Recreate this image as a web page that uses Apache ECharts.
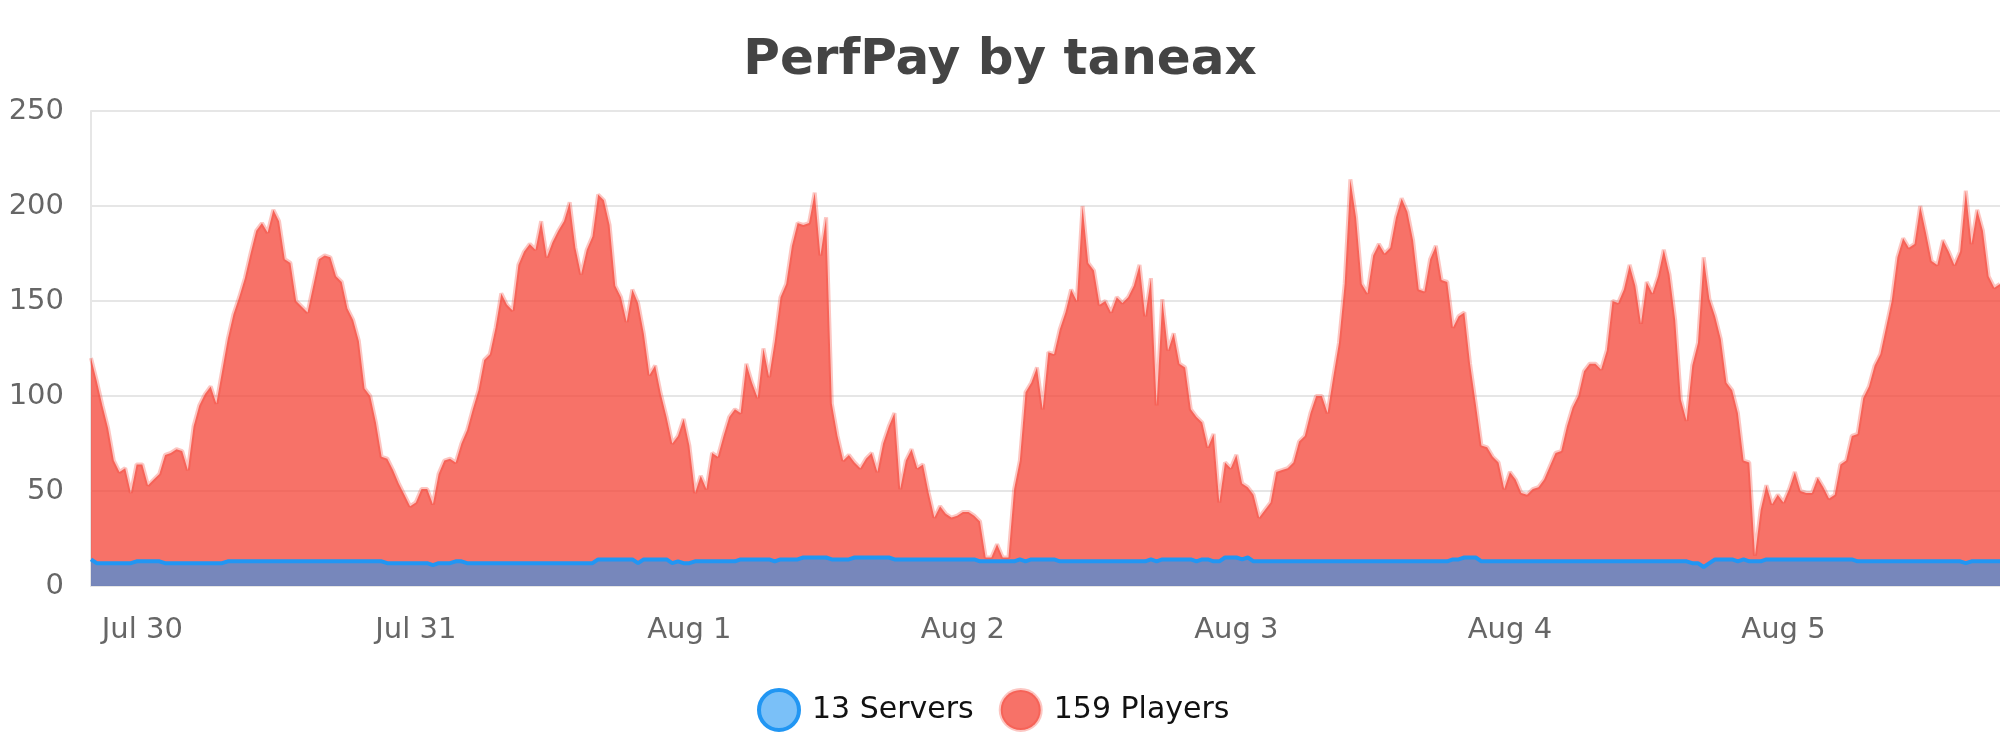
<!DOCTYPE html>
<html lang="en">
<head>
  <meta charset="UTF-8">
  <title>PerfPay by taneax</title>
  <script type="text/javascript" src="https://cdn.jsdelivr.net/npm/echarts@6/dist/echarts.min.js"></script>
  <style>
    html, body { margin: 0; padding: 0; background: #fff; }
  </style>
</head>
<body>
  <div id="chart" style="width: 2000px; height: 750px;"></div>

  <script type="text/javascript">
    // 30 minute samples, first one at Jul 29 19:30
    var startDay = 29;
    var startMinute = 19 * 60 + 30;
    var stepMinutes = 30;
    var monthNames = { 29: 'Jul 29', 30: 'Jul 30', 31: 'Jul 31', 32: 'Aug 1', 33: 'Aug 2', 34: 'Aug 3', 35: 'Aug 4', 36: 'Aug 5' };

    var players = [
      120,108,95,83,66,60,62,49,64,64,
      53,56,59,69,70,72,71,61,84,95,
      101,105,96,113,130,143,152,162,175,187,
      191,186,198,192,172,170,150,147,144,158,
      172,174,
      173,163,160,146,140,129,104,100,86,68,
      67,61,54,48,42,44,51,51,43,59,
      66,67,65,75,82,93,103,119,122,136,
      154,148,145,169,176,180,177,192,173,181,
      187,192,202,
      178,164,177,184,206,203,190,158,152,139,
      156,149,133,111,116,101,89,75,79,88,
      74,49,58,51,70,68,79,89,93,91,
      117,107,99,125,110,129,152,159,179,191,
      190,191,
      207,174,194,96,79,66,69,65,62,67,
      70,60,75,84,91,51,66,72,62,64,
      49,36,42,38,36,37,39,39,37,34,
      15,15,22,15,15,51,66,102,107,115,
      93,123,
      122,135,144,156,150,200,170,166,148,150,
      144,152,149,152,158,169,142,162,95,151,
      124,133,117,115,93,89,86,73,80,44,
      65,62,69,54,52,48,36,40,44,60,
      61,62,
      65,76,79,91,100,100,91,110,128,159,
      214,194,159,154,174,180,175,178,194,204,
      197,182,156,155,172,179,161,160,136,142,
      144,117,96,74,73,68,65,51,60,56,
      49,48,
      51,52,56,63,70,71,84,94,100,113,
      117,117,114,124,150,149,156,169,158,138,
      160,154,163,177,164,140,98,87,116,128,
      173,151,142,130,107,103,91,66,65,16,
      40,53,43,
      48,44,51,60,50,49,49,57,52,46,
      48,64,66,79,80,99,105,116,122,136,
      150,173,183,178,180,200,186,171,169,182,
      176,169,176,208,180,198,187,163,157,159
    ];

    var servers = [
      14,12,12,12,12,12,12,12,13,13,
      13,13,13,12,12,12,12,12,12,12,
      12,12,12,12,13,13,13,13,13,13,
      13,13,13,13,13,13,13,13,13,13,
      13,13,
      13,13,13,13,13,13,13,13,13,13,
      12,12,12,12,12,12,12,12,11,12,
      12,12,13,13,12,12,12,12,12,12,
      12,12,12,12,12,12,12,12,12,12,
      12,12,12,
      12,12,12,12,14,14,14,14,14,14,
      14,12,14,14,14,14,14,12,13,12,
      12,13,13,13,13,13,13,13,13,14,
      14,14,14,14,14,13,14,14,14,14,
      15,15,15,15,15,
      14,14,14,14,15,15,15,15,15,15,
      15,14,14,14,14,14,14,14,14,14,
      14,14,14,14,14,14,13,13,13,13,
      13,13,13,14,13,14,14,14,14,14,
      13,13,13,13,13,13,13,13,13,13,
      13,13,13,13,13,13,14,13,14,14,
      14,14,14,14,13,14,14,13,13,15,
      15,15,14,15,
      13,13,13,13,13,13,13,13,13,13,
      13,13,13,13,13,13,13,13,13,13,
      13,13,13,13,13,13,13,13,13,13,
      13,13,13,13,13,
      14,14,15,15,15,
      13,13,13,13,13,13,13,13,13,13,
      13,13,13,13,13,13,13,13,13,13,
      13,13,13,13,13,13,13,13,13,13,
      13,13,13,13,13,13,13,
      12,12,10,12,14,14,14,14,13,14,
      13,13,13,
      14,14,14,14,14,14,14,14,14,14,
      14,14,14,14,14,14,
      13,13,13,13,13,13,13,13,13,13,
      13,13,13,13,13,13,13,13,13,
      12,13,13,13,13,13,13
    ];

    // time labels, e.g. "Jul 30 00:00"
    var times = players.map(function (v, i) {
      var m = startMinute + i * stepMinutes;
      var day = startDay + Math.floor(m / 1440);
      var mm = m % 1440;
      var hh = Math.floor(mm / 60);
      var mi = mm % 60;
      return monthNames[day] + ' ' + (hh < 10 ? '0' : '') + hh + ':' + (mi < 10 ? '0' : '') + mi;
    });

    var serversLabel = '13 Servers';
    var playersLabel = '159 Players';

    var font = 'DejaVu Sans';

    var option = {
      animation: false,
      backgroundColor: '#fff',
      title: {
        text: 'PerfPay by taneax',
        left: 'center',
        top: 31,
        textStyle: {
          fontFamily: font,
          fontSize: 50,
          fontWeight: 'bold',
          color: '#444'
        }
      },
      legend: {
        top: 683,
        left: 752,
        icon: 'circle',
        itemWidth: 40,
        itemHeight: 40,
        itemGap: 25,
        textStyle: { fontFamily: font, fontSize: 30, color: '#111', padding: [0, 0, 0, 8] },
        data: [
          { name: serversLabel, itemStyle: { color: 'rgba(33,150,243,0.6)', borderColor: '#2196f3', borderWidth: 4 } },
          { name: playersLabel, itemStyle: { color: 'rgba(244,67,54,0.75)', borderColor: 'rgba(244,67,54,0.3)', borderWidth: 4 } }
        ]
      },
      grid: {
        left: 91,
        right: 0,
        top: 111,
        bottom: 164
      },
      xAxis: {
        type: 'category',
        data: times,
        boundaryGap: false,
        axisLine: { show: true, lineStyle: { color: '#e6e6e6', width: 2 } },
        axisTick: { show: false },
        axisLabel: {
          margin: 30,
          fontFamily: font,
          fontSize: 29,
          color: '#666',
          interval: function (idx, val) { return val.slice(-5) === '00:00'; },
          formatter: function (val) { return val.slice(0, -6); }
        },
        splitLine: { show: false }
      },
      yAxis: {
        type: 'value',
        min: 0,
        max: 250,
        interval: 50,
        axisLine: { show: true, lineStyle: { color: '#e6e6e6', width: 2 } },
        axisTick: { show: false },
        axisLabel: { margin: 27, fontFamily: font, fontSize: 29, color: '#666' },
        splitLine: { show: true, lineStyle: { color: '#e6e6e6', width: 2 } }
      },
      series: [
        {
          name: playersLabel,
          type: 'line',
          data: players,
          symbol: 'none',
          z: 2,
          lineStyle: { color: 'rgba(244,67,54,0.3)', width: 4 },
          itemStyle: { color: 'rgba(244,67,54,0.75)' },
          areaStyle: { color: 'rgba(244,67,54,0.75)', opacity: 1 }
        },
        {
          name: serversLabel,
          type: 'line',
          data: servers,
          symbol: 'none',
          z: 3,
          lineStyle: { color: '#2196f3', width: 4 },
          itemStyle: { color: '#2196f3' },
          areaStyle: { color: 'rgba(33,150,243,0.6)', opacity: 1 }
        }
      ]
    };

    var myChart = echarts.init(document.getElementById('chart'));
    myChart.setOption(option);
  </script>
</body>
</html>
